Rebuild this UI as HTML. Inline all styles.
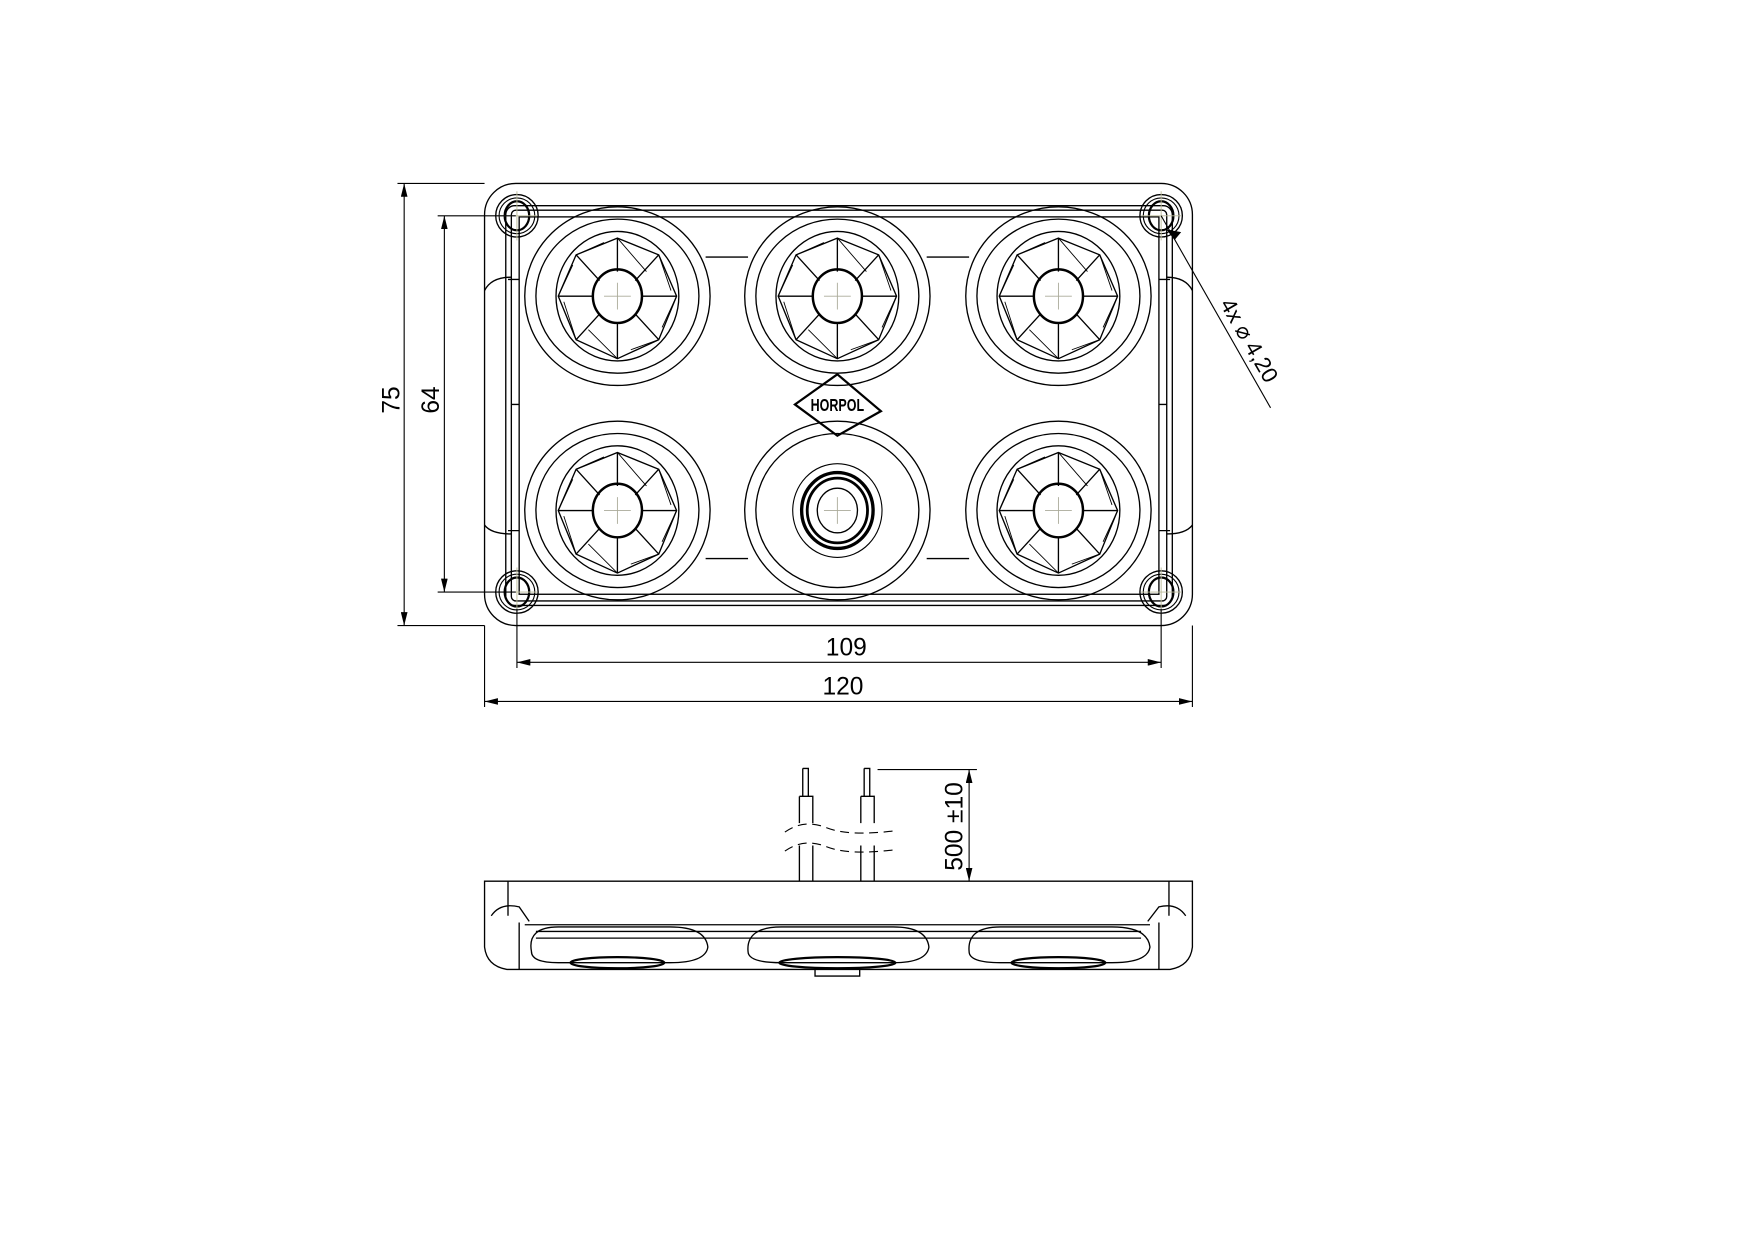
<!DOCTYPE html>
<html><head><meta charset="utf-8"><style>html,body{margin:0;padding:0;background:#fff}svg{display:block}</style></head>
<body>
<svg width="1754" height="1241" viewBox="0 0 1571 1111" xmlns="http://www.w3.org/2000/svg" font-family="Liberation Sans, DejaVu Sans, sans-serif">
<defs>
<marker id="a" viewBox="0 0 12 6" refX="12" refY="3" markerWidth="12" markerHeight="6" orient="auto-start-reverse" markerUnits="userSpaceOnUse"><path d="M0,0 L12,3 L0,6 z" fill="#000"/></marker>
<g id="lamp" fill="none" stroke="#000" stroke-width="1.2">
<ellipse rx="83" ry="80"/><ellipse rx="73" ry="69"/><ellipse rx="55" ry="58"/>
<polygon points="0,-52 37,-37 53,0 37,39 0,56 -37,39 -53,0 -37,-37"/>
<path d="M0,-52 L0,-22 M37,-37 L16,-14 M53,0 L22,0 M37,39 L16,16 M0,56 L0,24 M-37,39 L-16,16 M-53,0 L-22,0 M-37,-37 L-16,-14"/>
<path d="M0,-52 L26,-22 M37,-37 L48,-5 M53,0 L40,28 M37,39 L12,48 M0,56 L-26,30 M-37,39 L-48,5 M-53,0 L-40,-28 M-37,-37 L-12,-48" stroke-width="0.8"/>
<ellipse rx="22" ry="24" stroke-width="2.2"/>
<path d="M-12,0 H12 M0,-12 V12" stroke="#aa9" stroke-width="0.8"/>
</g>
<g id="hole" fill="none" stroke="#000">
<circle r="19" stroke-width="1.2"/><circle r="16" stroke-width="1"/><ellipse rx="11" ry="13" stroke-width="2"/>
<path d="M-18,0 H18 M0,-22 V22" stroke="#bb9" stroke-width="0.8"/>
</g>
</defs>
<g fill="none" stroke="#000" stroke-width="1.2">
<rect x="434" y="164" width="634" height="396" rx="28"/>
<rect x="453" y="184" width="597" height="358" rx="8"/>
<rect x="458" y="188" width="587" height="350" rx="4"/>
<rect x="465" y="194" width="573" height="338"/>
<path d="M632,230 H670 M830,230 H868 M632,500 H670 M830,500 H868 M465,250 H455 M1038,250 H1048 M465,475 H455 M1038,475 H1048 M458,362 H465 M1038,362 H1045"/>
<path d="M434,260 Q440,248 458,248 M1068,260 Q1062,248 1045,248 M434,470 Q440,478 458,478 M1068,470 Q1062,478 1045,478"/>
</g>
<use href="#lamp" x="553" y="265"/><use href="#lamp" x="750" y="265"/><use href="#lamp" x="948" y="265"/>
<use href="#lamp" x="553" y="457"/><use href="#lamp" x="948" y="457"/>
<g fill="none" stroke="#000">
<ellipse cx="750" cy="457" rx="83" ry="80" stroke-width="1.2"/><ellipse cx="750" cy="457" rx="73" ry="69" stroke-width="1.2"/>
<ellipse cx="750" cy="457" rx="40" ry="42" stroke-width="1"/>
<ellipse cx="750" cy="457" rx="32" ry="34" stroke-width="3"/>
<ellipse cx="750" cy="457" rx="27" ry="29" stroke-width="2.5"/>
<ellipse cx="750" cy="457" rx="18" ry="20" stroke-width="1.2"/>
<path d="M738,457 H762 M750,445 V469" stroke="#aa9" stroke-width="0.8"/>
</g>
<use href="#hole" x="463" y="193"/><use href="#hole" x="1040" y="193"/><use href="#hole" x="463" y="530"/><use href="#hole" x="1040" y="530"/>
<polygon points="750,335 789,368 750,390 712,362" fill="none" stroke="#000" stroke-width="2"/>
<text x="750" y="368" font-size="14" font-weight="bold" text-anchor="middle" transform="translate(750 368) scale(0.8 1.1) translate(-750 -368)">HORPOL</text>
<g stroke="#000" stroke-width="1" fill="none">
<path d="M356,164 H434 M356,560 H434 M392,193 H462 M392,530 H462"/>
<line x1="362" y1="164" x2="362" y2="560" marker-start="url(#a)" marker-end="url(#a)"/>
<line x1="398" y1="193" x2="398" y2="530" marker-start="url(#a)" marker-end="url(#a)"/>
<path d="M463,545 V598 M1040,545 V598 M434,560 V633 M1068,560 V633"/>
<line x1="463" y1="593" x2="1040" y2="593" marker-start="url(#a)" marker-end="url(#a)"/>
<line x1="434" y1="628" x2="1068" y2="628" marker-start="url(#a)" marker-end="url(#a)"/>
<line x1="1040" y1="193" x2="1138" y2="365"/>
<path d="M1052,214 L1046,206 L1057,208 z" fill="#000"/>
</g>
<g font-size="22" fill="#000">
<text x="758" y="587" text-anchor="middle">109</text>
<text x="755" y="622" text-anchor="middle">120</text>
<text transform="translate(358 358) rotate(-90)" text-anchor="middle">75</text>
<text transform="translate(393 358) rotate(-90)" text-anchor="middle">64</text>
<text transform="translate(1113 308) rotate(60)" text-anchor="middle" font-size="20">4x ⌀ 4,20</text>
<text transform="translate(862 740) rotate(-90)" text-anchor="middle">500 ±10</text>
</g>
<g fill="none" stroke="#000" stroke-width="1.2">
<path d="M434,789 H1068 V848 Q1066,865 1048,868 H454 Q436,865 434,848 Z"/>
<path d="M455,789 V820 M1047,789 V820 M470,828 H1030 M480,834 H1022 M480,840 H1022 M465,868 V826 M1038,868 V826"/>
<path d="M440,820 Q448,808 465,812 L474,825 M1062,820 Q1054,808 1038,812 L1028,825"/>
<path d="M476,852 Q472,830 500,830 H600 Q632,830 634,848 Q632,862 600,862 H500 Q476,862 476,852 Z"/>
<path d="M670,852 Q668,830 700,830 H800 Q830,830 832,848 Q830,862 800,862 H700 Q670,862 670,852 Z"/>
<path d="M868,852 Q866,830 896,830 H996 Q1028,830 1030,848 Q1028,862 996,862 H896 Q868,862 868,852 Z"/>
<ellipse cx="553" cy="862" rx="42" ry="5" stroke-width="2"/>
<ellipse cx="750" cy="862" rx="52" ry="5" stroke-width="2"/>
<ellipse cx="948" cy="862" rx="42" ry="5" stroke-width="2"/>
<path d="M730,868 V874 H770 V868"/>
<path d="M719,688 H724 V713 M719,688 V713 M716,713 H728 V737 M716,713 V737 M716,757 V789 M728,757 V789"/>
<path d="M774,688 H779 V713 M774,688 V713 M771,713 H783 V737 M771,713 V737 M771,757 V789 M783,757 V789"/>
<path d="M703,745 Q720,733 740,741 Q760,749 800,744 M703,762 Q720,750 740,758 Q760,766 800,761" stroke-dasharray="8 5" stroke-width="1"/>
<path d="M786,689 H875" stroke-width="1"/>
</g>
<line x1="868" y1="689" x2="868" y2="789" stroke="#000" stroke-width="1" marker-start="url(#a)" marker-end="url(#a)"/>
</svg>
</body></html>
